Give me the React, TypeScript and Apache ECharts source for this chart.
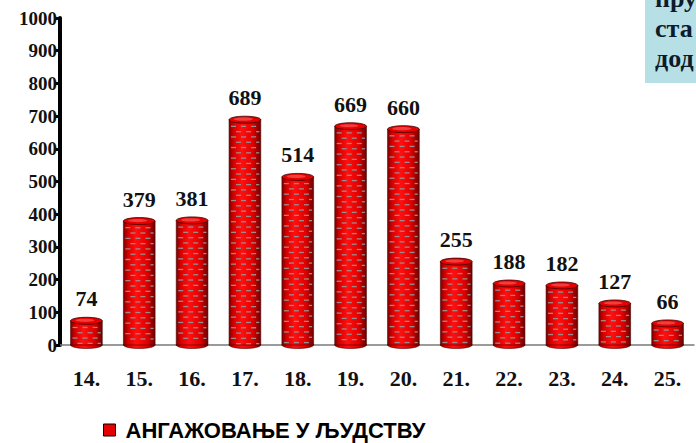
import React, { useEffect, useRef } from "react";
import * as echarts from "echarts";

const categories = ["14.", "15.", "16.", "17.", "18.", "19.", "20.", "21.", "22.", "23.", "24.", "25."];
const values = [74, 379, 381, 689, 514, 669, 660, 255, 188, 182, 127, 66];
const seriesName = "АНГАЖОВАЊЕ У ЉУДСТВУ";
const boxLines = ["пру", "ста", "дод"];

const SERIF = "'Liberation Serif', 'Times New Roman', serif";
const SANS = "'Liberation Sans', Arial, sans-serif";

export default function App() {
  const ref = useRef<HTMLDivElement>(null);
  useEffect(() => {
    if (!ref.current) return;
    const chart = echarts.init(ref.current, null, { renderer: "svg" });

    const renderItem = (params: any, api: any) => {
      const idx = api.value(0);
      const val = api.value(1);
      const top = api.coord([idx, val]);
      const base = api.coord([idx, 0]);
      const bw = api.size([1, 0])[0] * 0.6;
      const cx = top[0];
      const x0 = cx - bw / 2;
      const h = base[1] - top[1];
      const ry = 3.5;
      const bodyGrad = new echarts.graphic.LinearGradient(0, 0, 1, 0, [
        { offset: 0, color: "#7a0000" },
        { offset: 0.15, color: "#d80000" },
        { offset: 0.4, color: "#ff1010" },
        { offset: 0.75, color: "#e00000" },
        { offset: 1, color: "#6a0000" },
      ]);
      const children: any[] = [];
      children.push({
        type: "ellipse",
        shape: { cx, cy: base[1], rx: bw / 2, ry },
        style: { fill: bodyGrad, stroke: "#4a0000", lineWidth: 0.6 },
      });
      children.push({
        type: "rect",
        shape: { x: x0, y: top[1], width: bw, height: h },
        style: { fill: bodyGrad, stroke: "#4a0000", lineWidth: 0.6 },
      });
      let row = 0;
      for (let y = top[1] + ry + 2.5; y < base[1] - 2; y += 5.3) {
        const off = row % 2 === 0 ? 2 : 7;
        for (let x = x0 + off; x < x0 + bw - 2; x += 10) {
          const w = Math.min(5, x0 + bw - 1.5 - x);
          if (w <= 1) continue;
          children.push({
            type: "rect",
            shape: { x, y, width: w, height: 1.3 },
            style: { fill: "#9a8c8c" },
          });
        }
        row++;
      }
      children.push({
        type: "ellipse",
        shape: { cx, cy: top[1], rx: bw / 2, ry },
        style: { fill: "#e60000", stroke: "#3a0000", lineWidth: 0.8 },
      });
      children.push({
        type: "ellipse",
        shape: { cx: cx - bw * 0.05, cy: top[1] - 0.5, rx: bw * 0.3, ry: ry * 0.45 },
        style: { fill: "rgba(255,120,120,0.5)" },
      });
      return { type: "group", children };
    };

    chart.setOption({
      animation: false,
      backgroundColor: "#ffffff",
      grid: { left: 60, right: 2, top: 18, bottom: 98, containLabel: false },
      legend: {
        left: 103,
        top: 419,
        padding: 0,
        itemWidth: 12,
        itemHeight: 12,
        itemGap: 10,
        icon: "rect",
        data: [
          {
            name: seriesName,
            itemStyle: { color: "#e60000", borderColor: "#000", borderWidth: 1 },
          },
        ],
        textStyle: {
          fontFamily: SANS,
          fontWeight: "bold",
          fontSize: 22,
          lineHeight: 22,
          color: "#000",
          padding: [0, 0, 0, 5],
        },
      },
      xAxis: {
        type: "category",
        data: categories,
        axisLine: { show: true, lineStyle: { color: "#7a7a7a", width: 1.5 } },
        axisTick: { show: false },
        axisLabel: {
          fontFamily: SERIF,
          fontWeight: "bold",
          fontSize: 22,
          color: "#111",
          margin: 22,
        },
        splitLine: { show: false },
      },
      yAxis: {
        type: "value",
        min: 0,
        max: 1000,
        interval: 100,
        axisLine: { show: true, lineStyle: { color: "#000", width: 4 } },
        axisTick: { show: true, length: 5, lineStyle: { color: "#000", width: 3 } },
        axisLabel: {
          fontFamily: SERIF,
          fontWeight: "bold",
          fontSize: 19,
          color: "#111",
          margin: 3,
          formatter: (v: number) => String(v),
        },
        splitLine: { show: false },
      },
      series: [
        {
          name: seriesName,
          type: "custom",
          itemStyle: { color: "#e60000" },
          data: values.map((v, i) => [i, v]),
          renderItem,
          z: 3,
        },
        {
          type: "bar",
          data: values,
          barWidth: "60%",
          itemStyle: { color: "transparent" },
          label: {
            show: true,
            position: "top",
            distance: 11,
            fontFamily: SERIF,
            fontWeight: "bold",
            fontSize: 22,
            color: "#111",
          },
          silent: true,
          z: 4,
        },
      ],
      graphic: [
        {
          type: "rect",
          shape: { x: 645, y: 0, width: 60, height: 83 },
          style: { fill: "#b7dfe6" },
          z: 10,
        },
        ...boxLines.map((t, i) => ({
          type: "text",
          x: 655,
          y: i * 30 - 2,
          z: 11,
          style: {
            text: t,
            fill: "#0d1b2a",
            font: `bold 26px ${SERIF}`,
            verticalAlign: "middle",
            align: "left",
          },
        })),
      ],
    });
    return () => chart.dispose();
  }, []);
  return (
    <div
      ref={ref}
      style={{ position: "fixed", left: 0, top: 0, width: 696, height: 443 }}
    />
  );
}
